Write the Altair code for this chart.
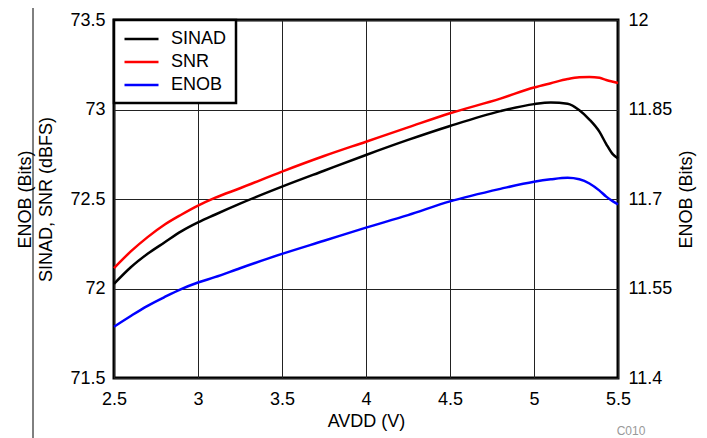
import altair as alt
import pandas as pd

avdd = [2.5, 2.6, 2.7, 2.8, 2.9, 3.0, 3.1, 3.25, 3.5, 3.75, 4.0, 4.25, 4.5,
        4.8, 5.0, 5.1, 5.2, 5.27, 5.33, 5.39, 5.43, 5.47, 5.5]
sinad = [72.026, 72.119, 72.194, 72.257, 72.319, 72.369, 72.412, 72.474, 72.569,
         72.658, 72.746, 72.83, 72.908, 72.991, 73.030, 73.039, 73.032, 72.996,
         72.944, 72.875, 72.807, 72.749, 72.727]
snr = [72.114, 72.207, 72.287, 72.356, 72.412, 72.463, 72.506, 72.56, 72.653,
       72.74, 72.82, 72.9, 72.979, 73.061, 73.123, 73.147, 73.17, 73.18, 73.182,
       73.177, 73.165, 73.155, 73.148]
enob = [11.486, 11.504, 11.521, 11.5355, 11.549, 11.560, 11.569, 11.584, 11.608,
        11.630, 11.652, 11.673, 11.696, 11.717, 11.729, 11.733, 11.7355, 11.733,
        11.726, 11.714, 11.704, 11.696, 11.691]

series_names = ["SINAD", "SNR", "ENOB"]
series_colors = ["#000000", "#ff0000", "#0000ff"]
x_ticks = [2.5, 3.0, 3.5, 4.0, 4.5, 5.0, 5.5]
left_ticks = [71.5, 72.0, 72.5, 73.0, 73.5]
right_ticks = [11.4, 11.55, 11.7, 11.85, 12.0]

FONT = "Liberation Sans"

left_df = pd.DataFrame(
    {"avdd": avdd * 2, "value": sinad + snr,
     "series": ["SINAD"] * len(avdd) + ["SNR"] * len(avdd)}
)
right_df = pd.DataFrame({"avdd": avdd, "value": enob, "series": ["ENOB"] * len(avdd)})

x_enc = alt.X(
    "avdd:Q",
    scale=alt.Scale(domain=[2.5, 5.5], nice=False, zero=False),
    axis=alt.Axis(values=x_ticks, format=".4~g", title="AVDD (V)", labelFlush=False,
                  ticks=False, domain=False, labelPadding=12, titlePadding=4,
                  grid=True),
)
color_enc = alt.Color(
    "series:N",
    scale=alt.Scale(domain=series_names, range=series_colors),
    legend=alt.Legend(title=None, orient="top-left", offset=0),
)

left = alt.Chart(left_df).mark_line(strokeWidth=2.5, interpolate="monotone").encode(
    x=x_enc,
    y=alt.Y("value:Q", scale=alt.Scale(domain=[71.5, 73.5], nice=False, zero=False),
            axis=alt.Axis(values=left_ticks, format=".4~g",
                          title=["ENOB (Bits)", "SINAD, SNR (dBFS)"],
                          ticks=False, domain=False, labelPadding=9, titlePadding=14,
                          grid=True)),
    color=color_enc,
    detail="series:N",
)

right = alt.Chart(right_df).mark_line(strokeWidth=2.5, interpolate="monotone").encode(
    x=x_enc,
    y=alt.Y("value:Q", scale=alt.Scale(domain=[11.4, 12.0], nice=False, zero=False),
            axis=alt.Axis(values=right_ticks, format=".4~g", orient="right",
                          title="ENOB (Bits)", titleAngle=270, ticks=False,
                          domain=False, labelPadding=10, titlePadding=24, grid=False)),
    color=color_enc,
)

page_line = alt.Chart(pd.DataFrame({"k": [0]})).mark_rule(
    color="#000000", strokeWidth=1
).encode(x=alt.value(-81), y=alt.value(-20), y2=alt.value(420))

code_text = alt.Chart(pd.DataFrame({"k": [0]})).mark_text(
    text="C010", fontSize=12, color="#999999", font=FONT
).encode(x=alt.value(517), y=alt.value(411))

chart = (
    alt.layer(left, right, page_line, code_text)
    .resolve_scale(y="independent")
    .properties(
        width=504, height=358,
        padding={"left": 106, "top": 12, "right": 81, "bottom": 60},
        autosize=alt.AutoSizeParams(type="none"),
    )
    .configure_view(stroke="#000000", strokeWidth=3)
    .configure_axis(
        labelFont=FONT, titleFont=FONT, labelFontSize=18, titleFontSize=18,
        labelColor="#000000", titleColor="#000000", titleFontWeight="normal",
        gridColor="#222222", gridWidth=1, gridOpacity=1, titleLineHeight=21,
    )
    .configure_legend(
        labelFont=FONT, labelFontSize=18, labelColor="#000000",
        strokeColor="#000000", strokeWidth=2.5, fillColor="#ffffff",
        padding=9, rowPadding=4, symbolType="M-1,0H3", symbolSize=289,
        symbolStrokeWidth=2.5, labelOffset=28,
    )
)

chart.save("out.html", embed_options={"renderer": "svg", "actions": False})
